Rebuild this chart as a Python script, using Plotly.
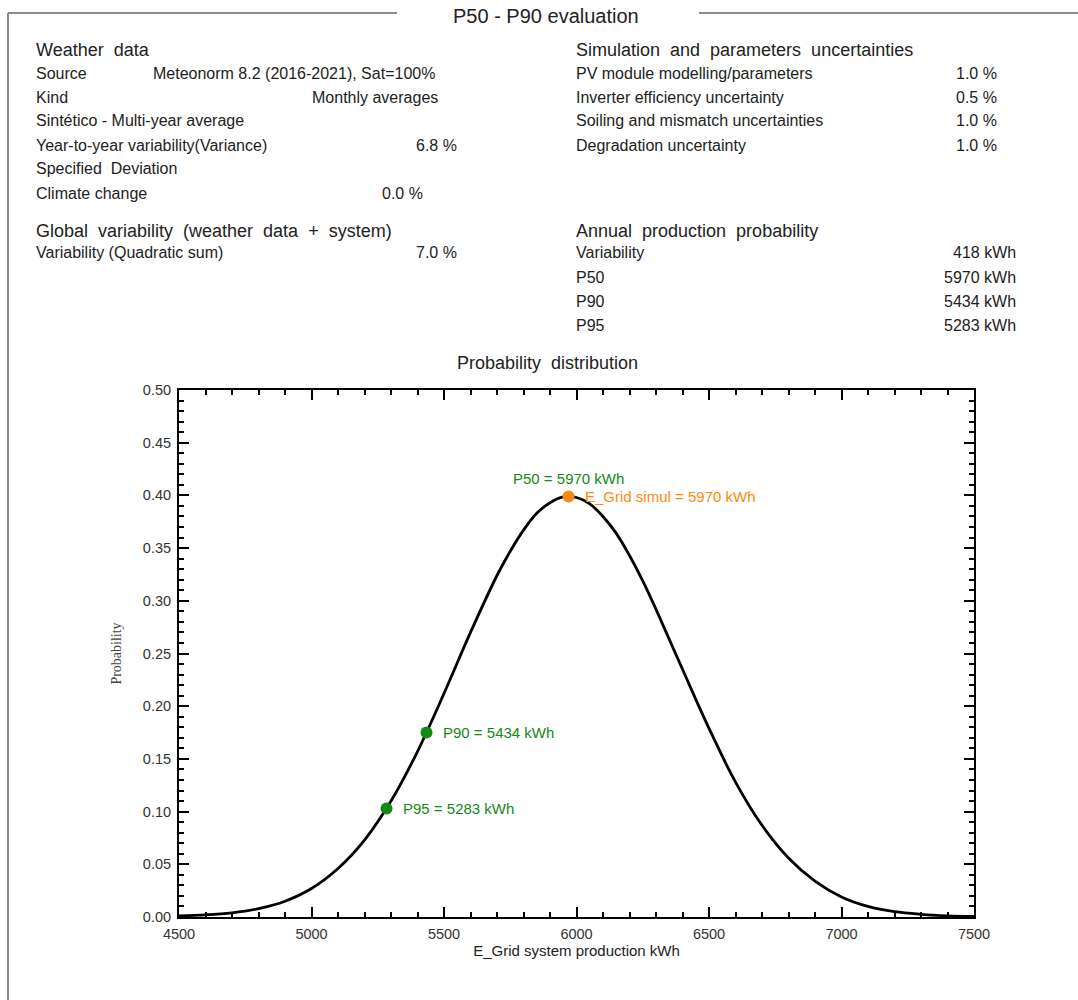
import plotly.graph_objects as go

# Annual energy distribution (kWh) and probability density values
energy_kwh = [4500, 4600, 4700, 4800, 4900, 5000, 5100, 5200, 5300, 5400,
              5500, 5600, 5700, 5750, 5800, 5850, 5900, 5950, 6000, 6050,
              6100, 6150, 6200, 6250, 6300, 6400, 6500, 6600, 6700, 6800,
              6900, 7000, 7100, 7200, 7300, 7400, 7500]
probability = [0.001, 0.002, 0.004, 0.008, 0.015, 0.027, 0.046, 0.073, 0.110, 0.157,
               0.212, 0.270, 0.324, 0.347, 0.367, 0.383, 0.393, 0.3985, 0.398, 0.392,
               0.380, 0.364, 0.343, 0.319, 0.292, 0.235, 0.179, 0.128, 0.087, 0.056,
               0.034, 0.019, 0.010, 0.005, 0.0025, 0.0011, 0.0005]

# Key production levels
p_labels = ["P50", "P90", "P95"]
p_values = [5970, 5434, 5283]
p_density = [0.399, 0.175, 0.103]
e_grid_simul = 5970

# Text tables
weather_rows = [
    ("Source", "Meteonorm 8.2 (2016-2021), Sat=100%"),
    ("Kind", "Monthly averages"),
    ("Sintético - Multi-year average", ""),
    ("Year-to-year variability(Variance)", "6.8 %"),
    ("Specified  Deviation", ""),
    ("Climate change", "0.0 %"),
]
uncert_rows = [
    ("PV module modelling/parameters", "1.0 %"),
    ("Inverter efficiency uncertainty", "0.5 %"),
    ("Soiling and mismatch uncertainties", "1.0 %"),
    ("Degradation uncertainty", "1.0 %"),
]
global_rows = [("Variability (Quadratic sum)", "7.0 %")]
annual_rows = [
    ("Variability", "418 kWh"),
    ("P50", "5970 kWh"),
    ("P90", "5434 kWh"),
    ("P95", "5283 kWh"),
]

W, H = 1078, 1000
L, R, T, B = 179, 974, 390, 917
FONT = "Liberation Sans, Arial, sans-serif"
TXT = "#222222"
GREEN = "#138a13"
ORANGE = "#ff8a0a"
BODY = 16
HEAD = 18


def px(x):
    return (x - L) / (R - L)


def py(y):
    return (B - y) / (B - T)


fig = go.Figure()

fig.add_trace(go.Scatter(
    x=energy_kwh, y=probability, mode="lines",
    line=dict(color="black", width=2.8, shape="spline", smoothing=1.0),
    hoverinfo="skip", showlegend=False,
))

fig.add_trace(go.Scatter(
    x=p_values[1:], y=p_density[1:], mode="markers",
    marker=dict(color=GREEN, size=12), showlegend=False,
))
fig.add_trace(go.Scatter(
    x=[e_grid_simul], y=[p_density[0]], mode="markers",
    marker=dict(color=ORANGE, size=12), showlegend=False,
))

ann = []


def text(x, y, s, size=BODY, anchor="left", color=TXT, family=FONT):
    # annotation boxes carry a small padding; compensate so text edges land on x
    shift = -2 if anchor == "left" else (3 if anchor == "right" else 0)
    ann.append(dict(x=px(x), y=py(y), xref="paper", yref="paper", text=s,
                    showarrow=False, xanchor=anchor, yanchor="middle", xshift=shift,
                    font=dict(size=size, color=color, family=family)))


# Header
text(546, 16, "P50 - P90 evaluation", size=20, anchor="center")

# Weather data block
text(36, 50, "Weather  data", size=HEAD)
row_y = [73, 97, 121, 145, 169, 193]
for (lab, val), y in zip(weather_rows, row_y):
    text(36, y, lab)
text(153, 73, weather_rows[0][1])
text(437, 97, weather_rows[1][1], anchor="right")
text(456, 145, weather_rows[3][1], anchor="right")
text(422, 193, weather_rows[5][1], anchor="right")

# Global variability block
text(36, 231, "Global  variability  (weather  data  +  system)", size=HEAD)
for (lab, val), y in zip(global_rows, [253]):
    text(36, y, lab)
    text(456, y, val, anchor="right")

# Uncertainties block
text(576, 50, "Simulation  and  parameters  uncertainties", size=HEAD)
for (lab, val), y in zip(uncert_rows, [73, 97, 121, 145]):
    text(576, y, lab)
    text(996, y, val, anchor="right")

# Annual production block
text(576, 231, "Annual  production  probability", size=HEAD)
for (lab, val), y in zip(annual_rows, [253, 277, 301, 325]):
    text(576, y, lab)
    text(1015, y, val, anchor="right")

text(547, 363, "Probability  distribution", size=HEAD, anchor="center")

# Point labels
ann.append(dict(x=p_values[0], y=p_density[0], xref="x", yref="y",
                text=f"{p_labels[0]} = {p_values[0]} kWh", showarrow=False,
                xanchor="center", yanchor="bottom", yshift=7,
                font=dict(size=15, color=GREEN, family=FONT)))
ann.append(dict(x=e_grid_simul, y=p_density[0], xref="x", yref="y",
                text=f"E_Grid simul = {e_grid_simul} kWh", showarrow=False,
                xanchor="left", yanchor="middle", xshift=14,
                font=dict(size=15, color=ORANGE, family=FONT)))
for lab, v, d in zip(p_labels[1:], p_values[1:], p_density[1:]):
    ann.append(dict(x=v, y=d, xref="x", yref="y",
                    text=f"{lab} = {v} kWh", showarrow=False,
                    xanchor="left", yanchor="middle", xshift=14,
                    font=dict(size=15, color=GREEN, family=FONT)))

# Frame around the page section
FRAME = "#8c8c8c"
shapes = [
    dict(type="line", xref="paper", yref="paper", x0=px(8), x1=px(8),
         y0=py(13), y1=py(1000), line=dict(color=FRAME, width=2)),
    dict(type="line", xref="paper", yref="paper", x0=px(8), x1=px(397),
         y0=py(13), y1=py(13), line=dict(color=FRAME, width=2)),
    dict(type="line", xref="paper", yref="paper", x0=px(699), x1=px(1078),
         y0=py(13), y1=py(13), line=dict(color=FRAME, width=2)),
]

axis_common = dict(
    showline=True, linecolor="black", linewidth=2, mirror="allticks",
    ticks="inside", ticklen=10, tickwidth=1.5, tickcolor="black",
    showgrid=False, zeroline=False, ticklabelstandoff=3,
    tickfont=dict(size=14.5, color="#333333", family=FONT),
)

fig.update_layout(
    width=W, height=H,
    margin=dict(l=L, r=W - R, t=T, b=H - B),
    paper_bgcolor="white", plot_bgcolor="white",
    showlegend=False,
    annotations=ann, shapes=shapes,
    xaxis=dict(range=[4500, 7500], dtick=500, tick0=4500,
               minor=dict(dtick=100, ticks="inside", ticklen=5, tickwidth=1.5,
                          tickcolor="black"),
               title=dict(text="E_Grid system production kWh", standoff=4,
                          font=dict(size=15, color=TXT, family=FONT)),
               **axis_common),
    yaxis=dict(range=[0, 0.5], dtick=0.05, tick0=0, tickformat=".2f",
               minor=dict(dtick=0.01, ticks="inside", ticklen=5, tickwidth=1.5,
                          tickcolor="black"),
               title=dict(text="Probability", standoff=18,
                          font=dict(size=14, color="#444444",
                                    family="Liberation Serif, Times New Roman, serif")),
               **axis_common),
)

fig.write_html("out.html")
